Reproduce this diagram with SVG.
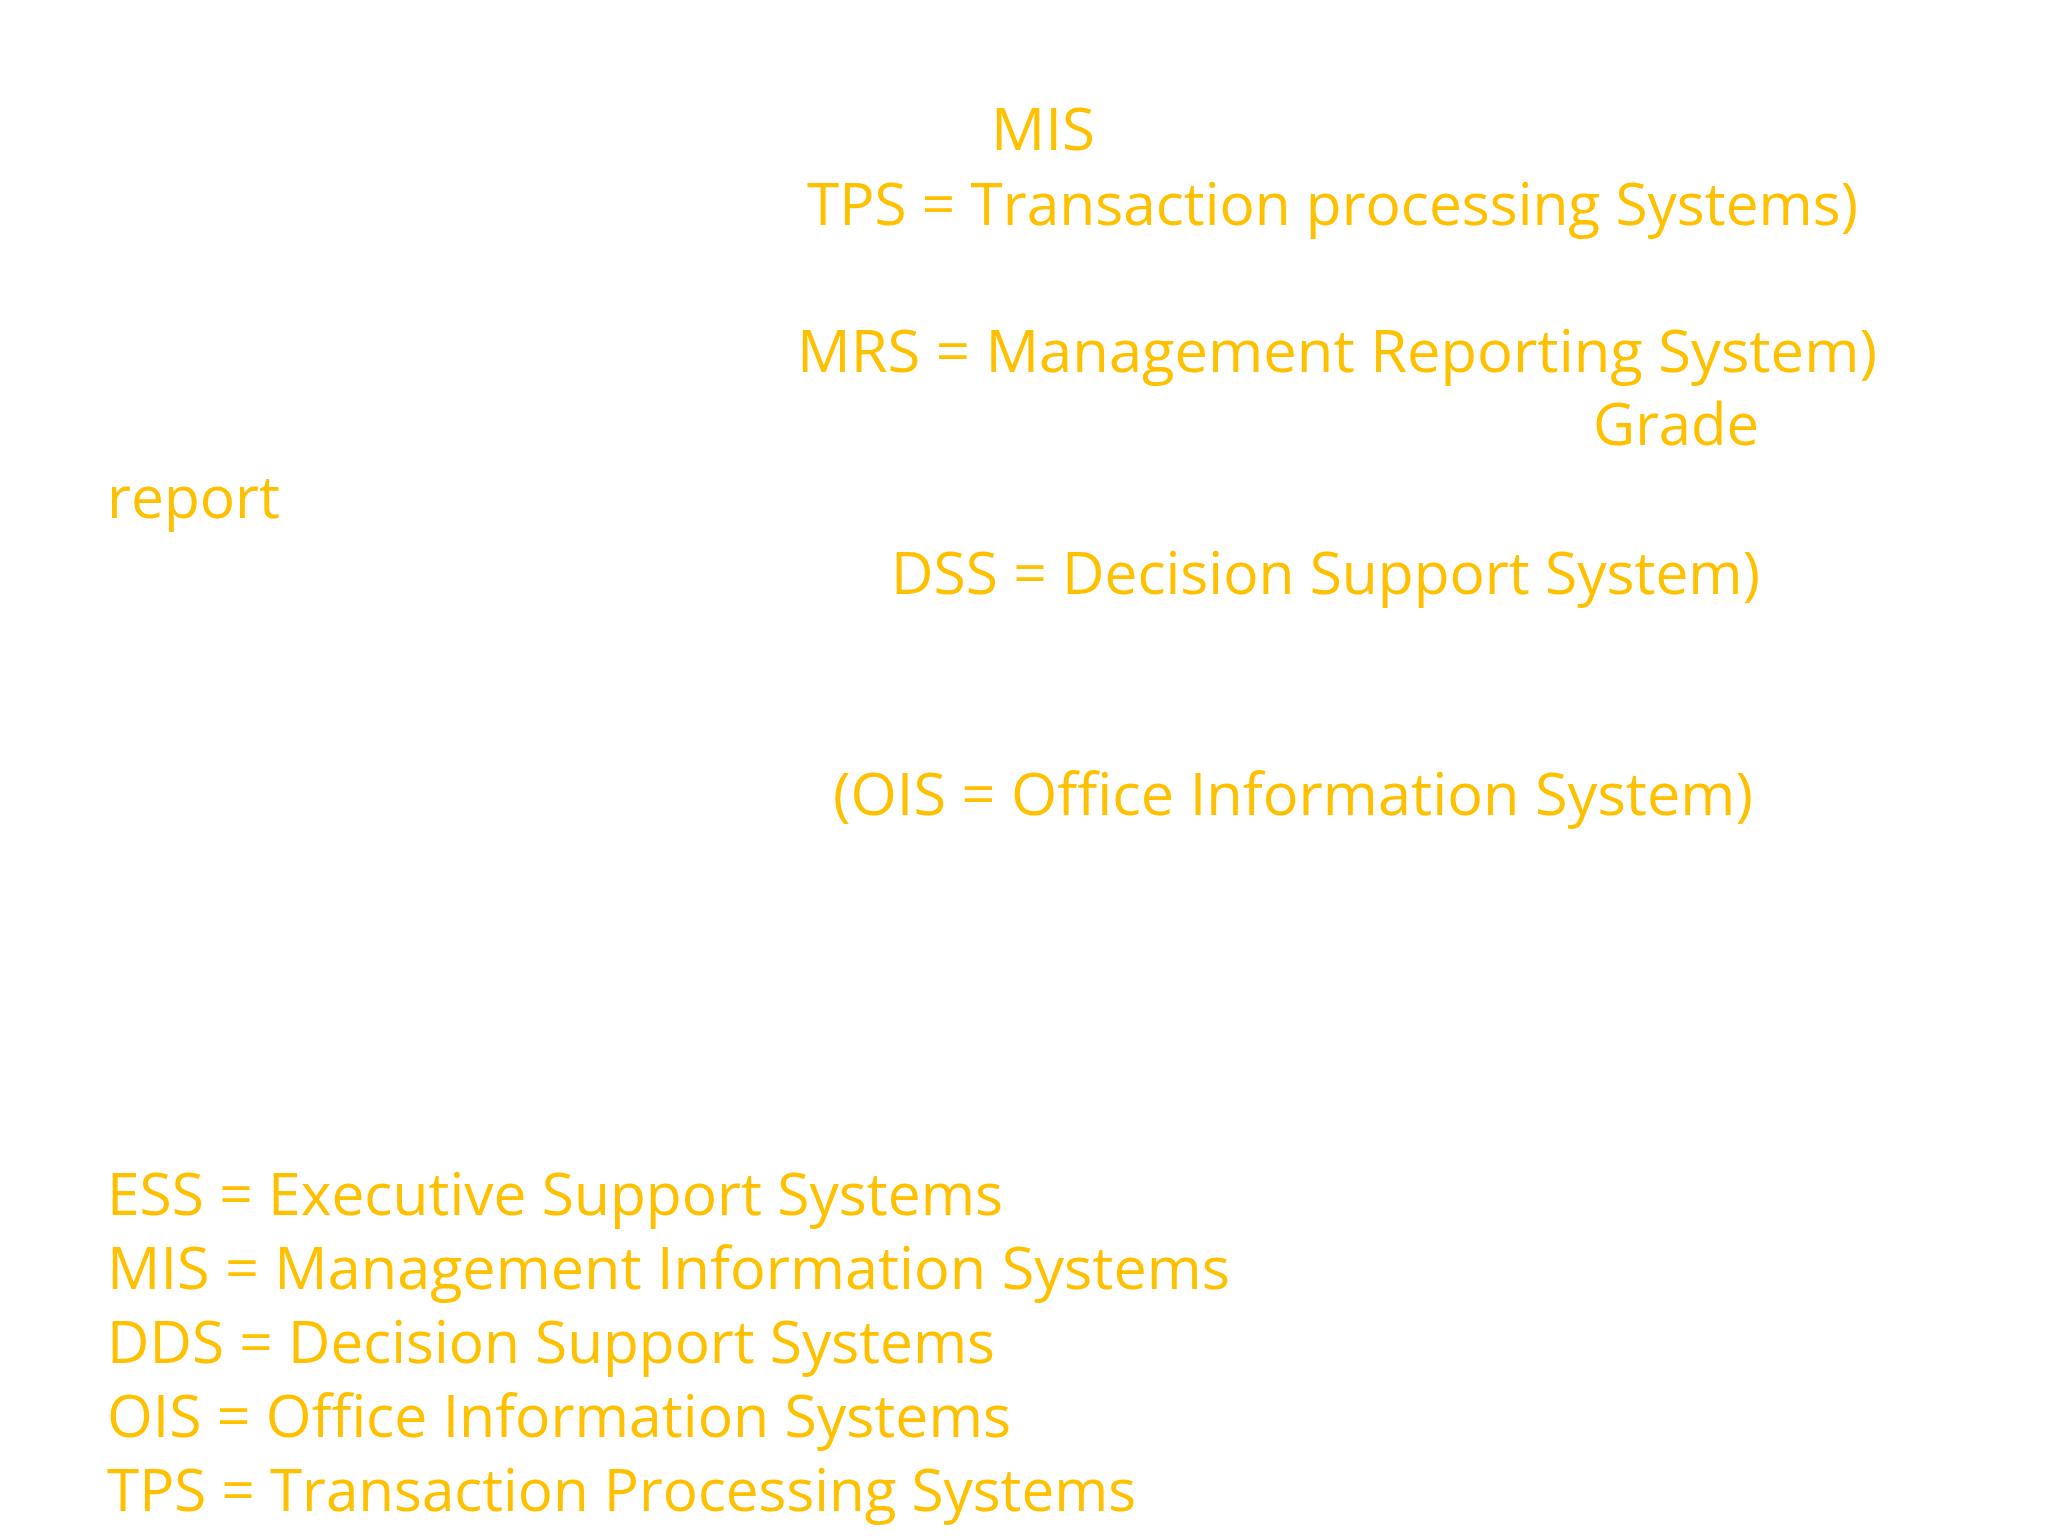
<svg xmlns="http://www.w3.org/2000/svg" width="2048" height="1536" viewBox="0 0 2048 1536">
<style>text{font-family:"Open Sans","Noto Sans",sans-serif;font-size:58px;fill:#FFC000}</style>
<rect width="2048" height="1536" fill="#fff"/>
<g id="labels">
<text x="991" y="150" textLength="104" lengthAdjust="spacingAndGlyphs">MIS</text>
<text x="807" y="225" textLength="1051" lengthAdjust="spacingAndGlyphs">TPS = Transaction processing Systems)</text>
<text x="797" y="372" textLength="1080" lengthAdjust="spacingAndGlyphs">MRS = Management Reporting System)</text>
<text x="1593" y="445" textLength="166" lengthAdjust="spacingAndGlyphs">Grade</text>
<text x="107" y="518" textLength="173" lengthAdjust="spacingAndGlyphs">report</text>
<text x="891" y="594" textLength="869" lengthAdjust="spacingAndGlyphs">DSS = Decision Support System)</text>
<text x="833" y="815" textLength="920" lengthAdjust="spacingAndGlyphs">(OIS = Office Information System)</text>
</g>
<g id="legend">
<text x="107" y="1215" textLength="896" lengthAdjust="spacingAndGlyphs">ESS = Executive Support Systems</text>
<text x="107" y="1289" textLength="1123" lengthAdjust="spacingAndGlyphs">MIS = Management Information Systems</text>
<text x="107" y="1363" textLength="888" lengthAdjust="spacingAndGlyphs">DDS = Decision Support Systems</text>
<text x="107" y="1437" textLength="904" lengthAdjust="spacingAndGlyphs">OIS = Office Information Systems</text>
<text x="107" y="1511" textLength="1029" lengthAdjust="spacingAndGlyphs">TPS = Transaction Processing Systems</text>
</g>
</svg>
